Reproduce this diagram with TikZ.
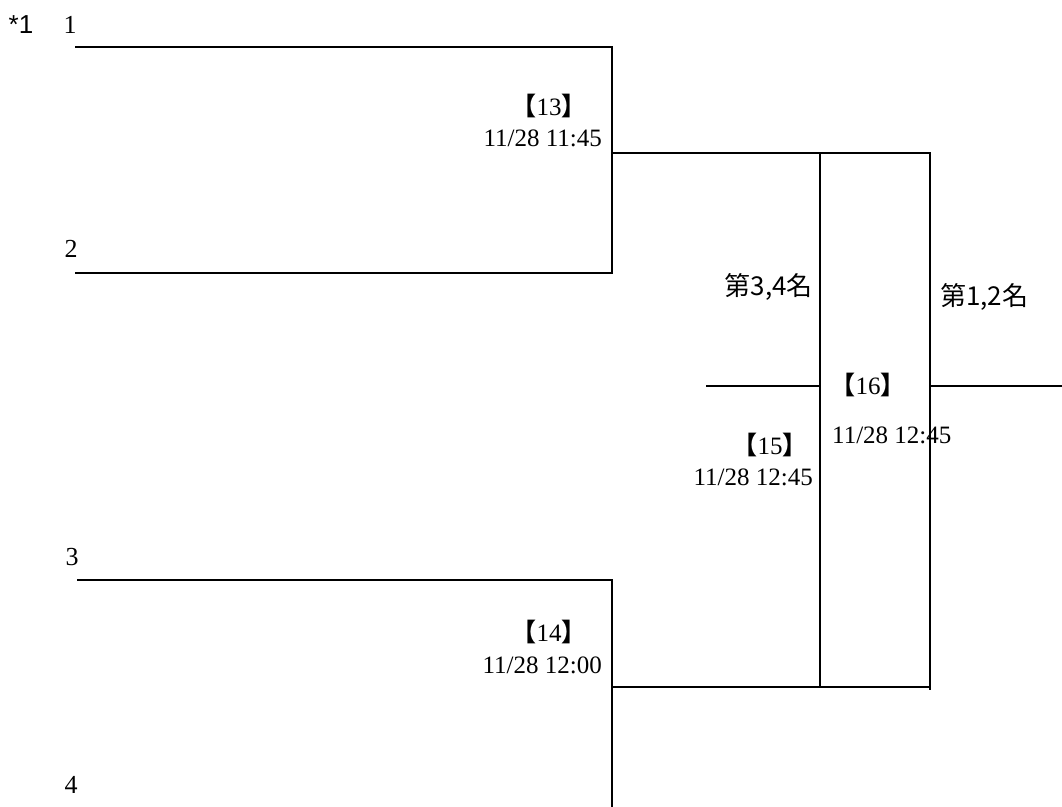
\documentclass[tikz,border=0pt]{standalone}
\usepackage{fontspec}
\setmainfont{Liberation Serif}
\newfontfamily\cjk{Noto Sans CJK TC}
\newfontfamily\arialf{Liberation Sans}
\newcommand{\lb}{{\cjk\bfseries 【}}
\newcommand{\rb}{{\cjk\bfseries 】}}
\begin{document}
\begin{tikzpicture}[x=1pt,y=-1pt,
  ln/.style={line width=1.6pt, line cap=rect},
  txt/.style={inner sep=0pt, font=\fontsize{25}{28}\selectfont},
  seed/.style={inner sep=0pt, font=\fontsize{26}{28}\selectfont},
  cjktxt/.style={inner sep=0pt, font=\cjk\fontsize{26}{28}\selectfont}]
\useasboundingbox (0,0) rectangle (1062,806);
% coordinates
\coordinate (a1) at (76,47);
\coordinate (b1) at (612,47);
\coordinate (a2) at (76,273);
\coordinate (b2) at (612,273);
\coordinate (m13) at (612,153);
\coordinate (a3) at (78,580);
\coordinate (b3) at (612,580);
\coordinate (b4) at (612,806);
\coordinate (m14) at (612,687);
\coordinate (t1) at (820,153);
\coordinate (t2) at (930,153);
\coordinate (u1) at (820,687);
\coordinate (u2) at (930,689);
\coordinate (l15) at (707,386);
\coordinate (r15) at (820,386);
\coordinate (l16) at (930,386);
\coordinate (r16) at (1062,386);
% lines
\draw[ln] (a1) -- (b1) -- (b2) -- (a2);
\draw[ln] (m13) -- (t2);
\draw[ln] (a3) -- (b3) -- (b4);
\draw[ln] (m14) -- (t2 |- m14);
\draw[ln] (t1) -- (u1);
\draw[ln] (t2) -- (u2);
\draw[ln] (l15) -- (r15);
\draw[ln] (l16) -- (r16);
% labels
\node[inner sep=0pt, font=\arialf\fontsize{26}{28}\selectfont] (star) at (21,25) {*1};
\node[seed] (s1) at (70,25) {1};
\node[seed] (s2) at (71,249) {2};
\node[seed] (s3) at (72,557) {3};
\node[seed] (s4) at (71,785) {4};
\node[txt] (g13) at (549,106) {\lb13\rb};
\node[txt, anchor=east] (d13) at (602,138) {11/28 11:45};
\node[txt] (g14) at (549,632) {\lb14\rb};
\node[txt, anchor=east] (d14) at (602,665) {11/28 12:00};
\node[txt] (g15) at (770,445) {\lb15\rb};
\node[txt, anchor=east] (d15) at (813,477) {11/28 12:45};
\node[txt] (g16) at (868,385) {\lb16\rb};
\node[txt, anchor=west] (d16) at (832,435) {11/28 12:45};
\node[cjktxt, anchor=east] (p34) at (813,287) {第3,4名};
\node[cjktxt, anchor=west] (p12) at (940,297) {第1,2名};
\end{tikzpicture}
\end{document}
